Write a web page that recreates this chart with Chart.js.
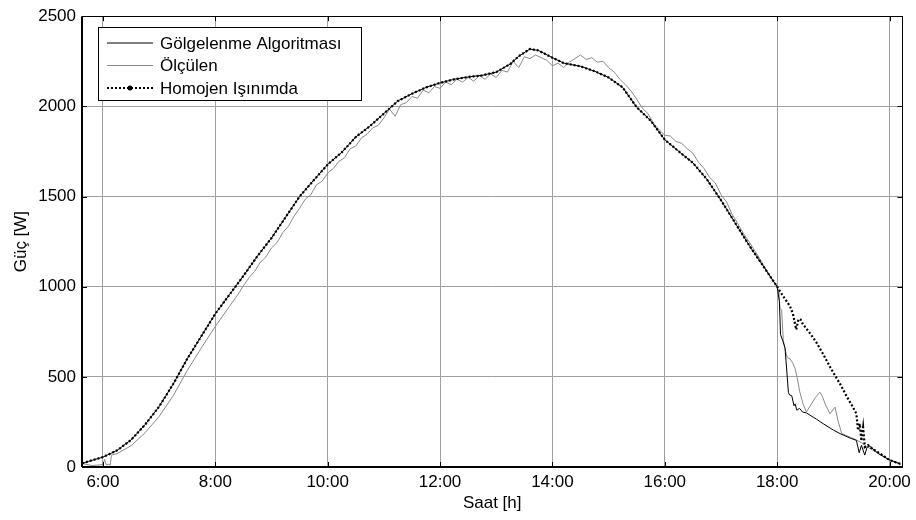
<!DOCTYPE html>
<html>
<head>
<meta charset="utf-8">
<script src="https://cdn.jsdelivr.net/npm/chart.js@4.4.0/dist/chart.umd.min.js"></script>
<style>
  html, body { margin: 0; padding: 0; background: #fff; }
  #wrap { width: 916px; height: 520px; }
</style>
</head>
<body>
<div id="wrap"><canvas id="powerChart" width="916" height="520"></canvas></div>
<script>
// time in decimal hours, power in W
// common part of "Gölgelenme Algoritması" and "Homojen Işınımda" (the two overlap until 18:00)
const baseTimes = [5.63, 5.75, 6.0, 6.25, 6.5, 6.75, 7.0, 7.25, 7.5, 7.75, 8.0, 8.25, 8.5, 8.75,
  9.0, 9.25, 9.5, 9.75, 10.0, 10.25, 10.5, 10.75, 11.0, 11.25, 11.5, 11.75, 12.0, 12.25, 12.5,
  12.75, 13.0, 13.25, 13.4, 13.6, 13.75, 14.0, 14.2, 14.5, 14.75, 15.0, 15.25, 15.5, 15.75,
  16.0, 16.25, 16.5, 16.75, 17.0, 17.25, 17.5, 17.75, 18.0];
const baseValues = [20, 32, 55, 92, 150, 235, 335, 460, 600, 725, 850, 955, 1060, 1170,
  1270, 1385, 1500, 1590, 1678, 1745, 1830, 1890, 1960, 2030, 2070, 2105, 2130, 2150, 2163,
  2172, 2190, 2235, 2278, 2318, 2310, 2270, 2240, 2222, 2195, 2160, 2105, 1995, 1920,
  1815, 1750, 1687, 1595, 1480, 1355, 1230, 1115, 1000];

// after 18:00 the curves split
const algTailTimes = [18.04, 18.06, 18.1, 18.14, 18.2, 18.22, 18.26, 18.3, 18.32, 18.35, 18.4,
  18.45, 18.52, 18.7, 18.82, 19.0, 19.12, 19.3, 19.41, 19.46, 19.5, 19.56, 19.6, 19.65, 19.8, 20.0, 20.2];
const algTailValues = [918, 734, 700, 661, 414, 400, 395, 340, 350, 315, 325,
  305, 300, 265, 240, 205, 185, 160, 148, 79, 120, 66, 110, 115, 75, 40, 16];

const homTailTimes = [18.1, 18.2, 18.23, 18.28, 18.34, 18.38, 18.42, 18.46, 18.49, 18.6, 18.7,
  18.82, 18.95, 19.12, 19.25, 19.35, 19.41, 19.44, 19.47, 19.5, 19.53, 19.56, 19.62, 19.7, 19.83, 20.0, 20.21];
const homTailValues = [950, 905, 890, 850, 762, 820, 817, 790, 780, 735, 690,
  625, 550, 460, 385, 331, 295, 203, 240, 145, 220, 110, 121, 100, 75, 38, 16];

// "Ölçülen" (measured)
const measTimes = [5.63, 5.8, 5.95, 6.0, 6.03, 6.06, 6.1, 6.13, 6.15, 6.25, 6.5, 6.75, 7.0, 7.25,
  7.5, 7.75, 8.0, 8.25, 8.4,
  8.5, 8.6, 8.7, 8.8, 8.9, 9.0, 9.1, 9.2, 9.3, 9.4, 9.5, 9.6, 9.7, 9.8, 9.9,
  10.0, 10.1, 10.2, 10.3, 10.4, 10.5, 10.6, 10.7, 10.8, 10.9,
  11.0, 11.1, 11.2, 11.3, 11.4, 11.5, 11.6, 11.7, 11.8, 11.9,
  12.0, 12.1, 12.2, 12.3, 12.4, 12.5, 12.6, 12.7, 12.8, 12.9,
  13.0, 13.1, 13.2, 13.3, 13.4, 13.5, 13.6, 13.7, 13.8, 13.9,
  14.0, 14.1, 14.2, 14.3, 14.4, 14.5, 14.6, 14.7, 14.8, 14.9,
  15.0, 15.1, 15.2, 15.3, 15.4, 15.5, 15.6, 15.7, 15.8, 15.9,
  16.0, 16.1, 16.2, 16.3, 16.4, 16.5, 16.6, 16.7, 16.8, 16.9,
  17.0, 17.1, 17.2, 17.3, 17.4, 17.5, 17.6, 17.7, 17.8, 17.9,
  18.0, 18.03, 18.05, 18.08, 18.11, 18.15, 18.18, 18.23, 18.28, 18.32, 18.36, 18.4, 18.46,
  18.52, 18.6, 18.68, 18.76, 18.8, 18.86, 18.94, 19.03, 19.08, 19.15, 19.3, 19.41, 19.5,
  19.6, 19.7, 19.8, 19.9, 20.0, 20.1, 20.2];
const measValues = [20, 8, 12, 15, 42, 12, 15, 10, 66, 74, 118, 190, 280, 395,
  535, 660, 780, 890, 955,
  1005, 1050, 1085, 1135, 1165, 1215, 1245, 1300, 1335, 1390, 1435, 1485, 1510, 1565, 1585,
  1630, 1655, 1695, 1715, 1765, 1780, 1825, 1845, 1880, 1895,
  1935, 1985, 1945, 2010, 2020, 2055, 2045, 2090, 2075, 2110,
  2100, 2135, 2120, 2150, 2135, 2160, 2140, 2170, 2150, 2180,
  2160, 2200, 2190, 2250, 2215, 2275, 2265, 2285, 2270, 2255,
  2225, 2240, 2215, 2245, 2265, 2285, 2260, 2270, 2245, 2250,
  2215, 2190, 2150, 2120, 2085, 2040, 1990, 1960, 1905, 1870,
  1840, 1835, 1805, 1795, 1765, 1740, 1690, 1655, 1605, 1575,
  1510, 1470, 1400, 1350, 1295, 1250, 1200, 1150, 1095, 1045,
  1000, 975, 880, 870, 700, 640, 606, 600, 575, 545, 490, 420, 350,
  305, 345, 385, 415, 395, 345, 295, 332, 260, 185, 165, 150, 135,
  112, 95, 75, 55, 38, 24, 15];

const xTicks = [6, 8, 10, 12, 14, 16, 18, 20];
const yTicks = [0, 500, 1000, 1500, 2000, 2500];

const toPoints = (xs, ys) => xs.map((x, i) => ({ x, y: ys[i] }));

Chart.defaults.font.family = "'Liberation Sans', Arial, sans-serif";
Chart.defaults.color = "#000";

// MATLAB-like box with inward ticks
const boxTicks = {
  id: "boxTicks",
  afterDatasetsDraw(chart) {
    const { ctx, chartArea: a, scales } = chart;
    ctx.save();
    ctx.strokeStyle = "#000";
    ctx.lineWidth = 1;
    ctx.beginPath();
    xTicks.forEach((v) => {
      const px = Math.round(scales.x.getPixelForValue(v)) + 0.5;
      ctx.moveTo(px, a.bottom); ctx.lineTo(px, a.bottom - 5);
      ctx.moveTo(px, a.top); ctx.lineTo(px, a.top + 5);
    });
    yTicks.forEach((v) => {
      const py = Math.round(scales.y.getPixelForValue(v)) + 0.5;
      ctx.moveTo(a.left, py); ctx.lineTo(a.left + 5, py);
      ctx.moveTo(a.right, py); ctx.lineTo(a.right - 5, py);
    });
    ctx.stroke();
    ctx.strokeRect(Math.round(a.left) + 0.5, Math.round(a.top) + 0.5,
      Math.round(a.right - a.left), Math.round(a.bottom - a.top));
    ctx.lineWidth = 2;
    ctx.beginPath();
    ctx.moveTo(a.left, a.bottom); ctx.lineTo(a.right, a.bottom);
    ctx.moveTo(a.left, a.top); ctx.lineTo(a.left, a.bottom);
    ctx.stroke();
    ctx.restore();
  },
};

const boxLegend = {
  id: "boxLegend",
  afterDraw(chart, args, opts) {
    const { ctx } = chart;
    ctx.save();
    ctx.fillStyle = "#fff";
    ctx.fillRect(opts.x, opts.y, opts.w, opts.h);
    ctx.strokeStyle = "#000";
    ctx.lineWidth = 1;
    ctx.strokeRect(opts.x + 0.5, opts.y + 0.5, opts.w, opts.h);
    ctx.font = "17px 'Liberation Sans', Arial, sans-serif";
    ctx.textBaseline = "middle";
    opts.items.forEach((it, i) => {
      const ds = chart.data.datasets[it];
      const y = opts.y + opts.rowTop + i * opts.rowGap;
      ctx.strokeStyle = ds.borderColor;
      ctx.lineWidth = ds.borderWidth;
      ctx.setLineDash(ds.borderDash || []);
      ctx.beginPath();
      ctx.moveTo(opts.x + 9, y);
      ctx.lineTo(opts.x + 55, y);
      ctx.stroke();
      ctx.setLineDash([]);
      if (ds.borderDash) {
        ctx.fillStyle = "#000";
        ctx.beginPath();
        ctx.arc(opts.x + 32, y, 2.5, 0, Math.PI * 2);
        ctx.fill();
      }
      ctx.fillStyle = "#000";
      ctx.fillText(ds.label, opts.x + 62, y + 1);
    });
    ctx.restore();
  },
};

const canvas = document.getElementById("powerChart");
new Chart(canvas.getContext("2d"), {
  type: "line",
  data: {
    datasets: [
      {
        label: "Gölgelenme Algoritması",
        data: toPoints(baseTimes.concat(algTailTimes), baseValues.concat(algTailValues)),
        borderColor: "#000",
        borderWidth: 1,
        pointRadius: 0,
        order: 1,
      },
      {
        label: "Ölçülen",
        data: toPoints(measTimes, measValues),
        borderColor: "#8a8a8a",
        borderWidth: 1,
        pointRadius: 0,
        order: 2,
      },
      {
        label: "Homojen Işınımda",
        data: toPoints(baseTimes.concat(homTailTimes), baseValues.concat(homTailValues)),
        borderColor: "#000",
        borderWidth: 2.2,
        borderDash: [2, 2],
        pointRadius: 0,
        order: 0,
      },
    ],
  },
  options: {
    responsive: false,
    animation: false,
    events: [],
    layout: { padding: { left: 0, right: 13, top: 12, bottom: 0 } },
    elements: { line: { tension: 0 } },
    plugins: {
      legend: { display: false },
      tooltip: { enabled: false },
      boxLegend: { x: 98, y: 27, w: 263, h: 73, rowTop: 16, rowGap: 22.5, items: [0, 1, 2] },
    },
    scales: {
      x: {
        type: "linear",
        min: 5.627,
        max: 20.23,
        afterBuildTicks: (s) => { s.ticks = xTicks.map((v) => ({ value: v })); },
        afterFit: (s) => { s.height = 53; },
        ticks: {
          font: { size: 17 },
          padding: 5,
          maxRotation: 0,
          callback: (v) => Math.floor(v) + ":00",
        },
        grid: { color: "#a0a0a0", lineWidth: 1, drawTicks: false },
        border: { display: false },
        title: { display: true, text: "Saat [h]", font: { size: 17 }, padding: { top: 0, bottom: 6 } },
      },
      y: {
        min: 0,
        max: 2500,
        afterBuildTicks: (s) => { s.ticks = yTicks.map((v) => ({ value: v })); },
        afterFit: (s) => { s.width = 82; },
        ticks: { font: { size: 17 }, padding: 6, callback: (v) => String(v) },
        grid: { color: "#a0a0a0", lineWidth: 1, drawTicks: false },
        border: { display: false },
        title: { display: true, text: "Güç [W]", font: { size: 17 }, padding: { top: 11, bottom: 0 } },
      },
    },
  },
  plugins: [boxTicks, boxLegend],
});
</script>
</body>
</html>
